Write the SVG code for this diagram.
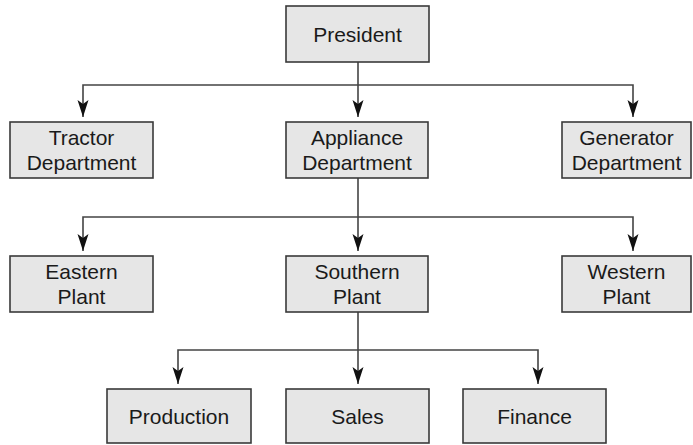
<svg xmlns="http://www.w3.org/2000/svg" width="693" height="445" viewBox="0 0 693 445">
<defs>
<style>
.box{fill:#e6e6e6;stroke:#3a3a3a;stroke-width:1.6}
.t{font-family:"Liberation Sans",Arial,sans-serif;font-size:21px;fill:#1a1a1a;text-anchor:middle}
.ln{fill:none;stroke:#444;stroke-width:1.6}
</style>
<marker id="arr" markerUnits="userSpaceOnUse" markerWidth="18" markerHeight="12" refX="17" refY="6" orient="auto-start-reverse" viewBox="0 0 18 12">
<path d="M0,0.5 L17,6 L0,11.5 L4,6 Z" fill="#111"/>
</marker>
</defs>
<rect width="693" height="445" fill="#fff"/>
<g id="connectors">
<path class="ln" d="M358,62 V117" marker-end="url(#arr)"/>
<path class="ln" d="M83,117 V85 H633 V117" marker-start="url(#arr)" marker-end="url(#arr)"/>
<path class="ln" d="M358,178 V251" marker-end="url(#arr)"/>
<path class="ln" d="M83,251 V217 H633 V251" marker-start="url(#arr)" marker-end="url(#arr)"/>
<path class="ln" d="M358,312 V384" marker-end="url(#arr)"/>
<path class="ln" d="M178,384 V350 H538 V384" marker-start="url(#arr)" marker-end="url(#arr)"/>
</g>
<g id="president"><rect class="box" x="286" y="6" width="143" height="56"/><text class="t" x="357.5" y="42">President</text></g>
<g id="tractor"><rect class="box" x="10" y="122" width="143" height="56"/><text class="t" x="81.5" y="145">Tractor</text><text class="t" x="81.5" y="170">Department</text></g>
<g id="appliance"><rect class="box" x="286" y="122" width="142" height="56"/><text class="t" x="357" y="145">Appliance</text><text class="t" x="357" y="170">Department</text></g>
<g id="generator"><rect class="box" x="562" y="122" width="129" height="56"/><text class="t" x="626.5" y="145">Generator</text><text class="t" x="626.5" y="170">Department</text></g>
<g id="eastern"><rect class="box" x="10" y="256" width="143" height="56"/><text class="t" x="81.5" y="279">Eastern</text><text class="t" x="81.5" y="304">Plant</text></g>
<g id="southern"><rect class="box" x="286" y="256" width="142" height="56"/><text class="t" x="357" y="279">Southern</text><text class="t" x="357" y="304">Plant</text></g>
<g id="western"><rect class="box" x="562" y="256" width="129" height="56"/><text class="t" x="626.5" y="279">Western</text><text class="t" x="626.5" y="304">Plant</text></g>
<g id="production"><rect class="box" x="107" y="389" width="144" height="54"/><text class="t" x="179" y="424">Production</text></g>
<g id="sales"><rect class="box" x="286" y="389" width="143" height="54"/><text class="t" x="357.5" y="424">Sales</text></g>
<g id="finance"><rect class="box" x="463" y="389" width="143" height="54"/><text class="t" x="534.5" y="424">Finance</text></g>
</svg>
